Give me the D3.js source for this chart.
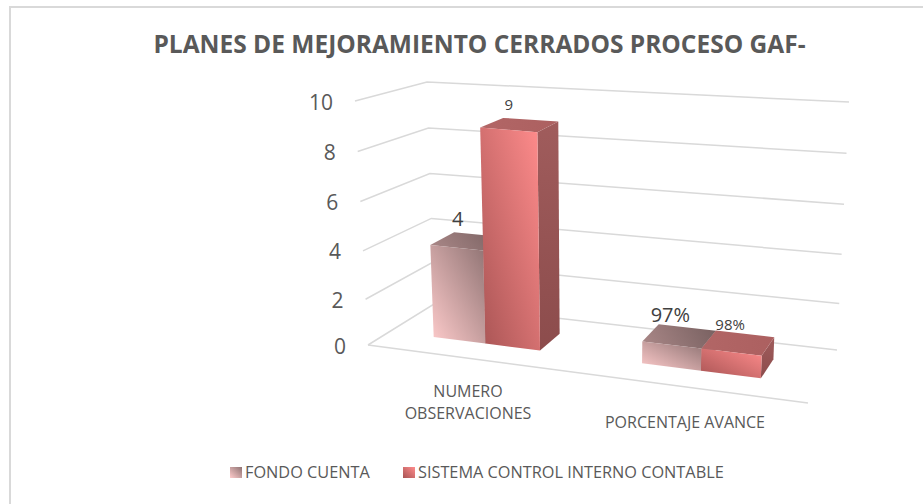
<!DOCTYPE html>
<html>
<head>
<meta charset="utf-8">
<script src="https://cdn.jsdelivr.net/npm/d3@7"></script>
<style>
  html, body { margin: 0; padding: 0; background: #fff; }
  svg { display: block; }
  text { font-family: "Open Sans", sans-serif; }
</style>
</head>
<body>
<div id="chart"></div>
<script>
const titleText = 'PLANES DE MEJORAMIENTO CERRADOS PROCESO GAF-'
const categories = ['NUMERO OBSERVACIONES', 'PORCENTAJE AVANCE']
const seriesNames = ['FONDO CUENTA', 'SISTEMA CONTROL INTERNO CONTABLE']
const fondoValues = [4, 0.97]
const sistemaValues = [9, 0.98]
const valueLabels = [['4', '97%'], ['9', '98%']]
const yTicks = [0, 2, 4, 6, 8, 10]

const width = 923
const height = 504

// screen corners of the 3d box, [floor, top] for each of the four vertical edges
const frontLeft = [[368, 345], [355, 101]]
const frontRight = [[808, 403], [820, 143]]
const backLeft = [[434, 304], [427, 82]]
const backRight = [[837, 350], [849, 102]]

const lerp = (a, b, t) => [a[0] + (b[0] - a[0]) * t, a[1] + (b[1] - a[1]) * t]

// u along the categories, v into the depth, w up the value axis (all 0..1)
function project (u, v, w) {
  let fl = lerp(frontLeft[0], frontLeft[1], w)
  let fr = lerp(frontRight[0], frontRight[1], w)
  let bl = lerp(backLeft[0], backLeft[1], w)
  let br = lerp(backRight[0], backRight[1], w)
  return lerp(lerp(fl, fr, u), lerp(bl, br, u), v)
}

const x0 = d3.scaleBand().domain(categories).range([0.01, 0.995])
const x1 = d3.scaleBand().domain([0, 1]).range([-0.13, 0.13])
const warp = d3.scalePow().exponent(1.1).domain([0, 1]).range([0, 1]) // perspective stretch to the right
const y = d3.scalePow().exponent(1.04).domain([0, 10]).range([0, 1])
const depth = [0.33, 0.7]

const svg = d3.select('#chart').append('svg')
  .attr('width', width)
  .attr('height', height)

const defs = svg.append('defs')
function gradient (id, x1g, y1g, x2g, y2g, from, to) {
  let g = defs.append('linearGradient').attr('id', id)
    .attr('x1', x1g).attr('y1', y1g).attr('x2', x2g).attr('y2', y2g)
  g.append('stop').attr('offset', 0).attr('stop-color', from)
  g.append('stop').attr('offset', 1).attr('stop-color', to)
}
gradient('front0', 0, 1, 1, 0, '#ffcccc', '#8f7373')
gradient('top0', 0, 0.6, 1, 0.4, '#a88686', '#7a6262')
gradient('front1', 0, 1, 1, 0, '#a85454', '#ff8c8c')
gradient('top1', 0, 0.5, 1, 0.5, '#b26666', '#ac6060')
gradient('side1', 0, 0, 0, 1, '#a05c5c', '#8c4c4c')

// outer frame, only the top and left edges are inside the picture
svg.append('path')
  .attr('d', d3.line()([[10, height], [10, 7], [width, 7]]))
  .attr('fill', 'none')
  .attr('stroke', '#d9d9d9')
  .attr('stroke-width', 2)

svg.append('text')
  .attr('x', 479.5).attr('y', 53)
  .attr('text-anchor', 'middle')
  .attr('font-size', 24.5)
  .attr('font-weight', 700)
  .attr('fill', '#595959')
  .text(titleText)

// grid on the left and back walls
const grid = svg.append('g').attr('fill', 'none').attr('stroke', '#d9d9d9').attr('stroke-width', 1.5)
const line = d3.line()
yTicks.forEach(t => {
  grid.append('path').attr('d', line([project(0, 0, y(t)), project(0, 1, y(t)), project(1, 1, y(t))]))
})
grid.append('path').attr('d', line([project(0, 0, 0), project(1, 0, 0)]))

svg.append('g').selectAll('text').data(yTicks).enter().append('text')
  .attr('x', d => project(0, 0, y(d))[0] - 22)
  .attr('y', d => project(0, 0, y(d))[1] + 1)
  .attr('dy', '0.36em')
  .attr('text-anchor', 'end')
  .attr('font-size', 21)
  .attr('fill', '#595959')
  .text(d => d)

// bars, left to right
const bars = []
categories.forEach((c, ci) => {
  [fondoValues, sistemaValues].forEach((vals, si) => {
    let left = x0(c) + x0.bandwidth() / 2 + x1(si)
    bars.push({
      series: si,
      cat: ci,
      value: vals[ci],
      label: valueLabels[si][ci],
      u0: warp(left),
      u1: warp(left + x1.bandwidth())
    })
  })
})

const face = pts => d3.line()(pts) + 'Z'
const barG = svg.append('g').selectAll('g').data(bars).enter().append('g')

barG.append('path') // right side
  .attr('d', d => face([
    project(d.u1, depth[0], 0), project(d.u1, depth[1], 0),
    project(d.u1, depth[1], y(d.value)), project(d.u1, depth[0], y(d.value))
  ]))
  .attr('fill', d => d.series ? 'url(#side1)' : '#8f7373')
barG.append('path') // top
  .attr('d', d => face([
    project(d.u0, depth[0], y(d.value)), project(d.u1, depth[0], y(d.value)),
    project(d.u1, depth[1], y(d.value)), project(d.u0, depth[1], y(d.value))
  ]))
  .attr('fill', d => `url(#top${d.series})`)
barG.append('path') // front
  .attr('d', d => face([
    project(d.u0, depth[0], 0), project(d.u1, depth[0], 0),
    project(d.u1, depth[0], y(d.value)), project(d.u0, depth[0], y(d.value))
  ]))
  .attr('fill', d => `url(#front${d.series})`)

// value labels go above everything so the bars do not cover them
svg.append('g').selectAll('text').data(bars).enter().append('text')
  .attr('x', d => project((d.u0 + d.u1) / 2, depth[1], y(d.value))[0] - (d.cat ? (d.series ? 15 : 17) : 22))
  .attr('y', d => project((d.u0 + d.u1) / 2, depth[1], y(d.value))[1] - (d.cat ? (d.series ? 4 : 5) : (d.series ? 10 : 9)))
  .attr('text-anchor', 'middle')
  .attr('font-size', d => d.series ? 15 : 20)
  .attr('fill', '#404040')
  .text(d => d.label)

// category labels
const catLabels = [[['NUMERO', 468, 397], ['OBSERVACIONES', 468, 418.5]], [['PORCENTAJE AVANCE', 685, 428]]]
svg.append('g').selectAll('text').data(catLabels.flat()).enter().append('text')
  .attr('x', d => d[1])
  .attr('y', d => d[2])
  .attr('text-anchor', 'middle')
  .attr('font-size', 16)
  .attr('fill', '#595959')
  .text(d => d[0])

// legend
const legendX = [230, 403]
const legend = svg.append('g').selectAll('g').data(seriesNames).enter().append('g')
  .attr('transform', (d, i) => `translate(${legendX[i]},467)`)
legend.append('rect').attr('width', 12).attr('height', 11)
  .attr('fill', (d, i) => `url(#front${i})`)
legend.append('text')
  .attr('x', 15).attr('y', 11)
  .attr('font-size', 16.3)
  .attr('fill', '#595959')
  .text(d => d)
</script>
</body>
</html>
